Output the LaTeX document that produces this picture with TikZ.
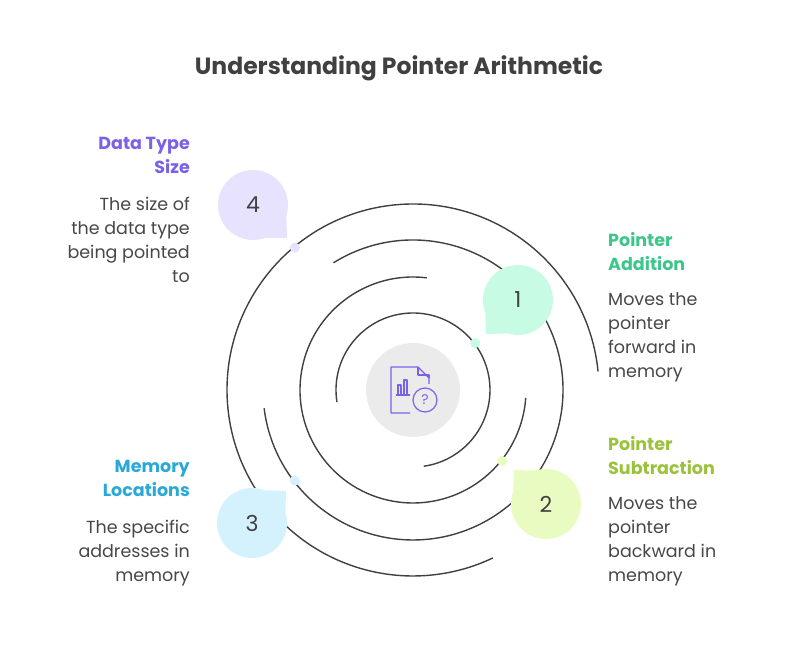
\documentclass[tikz,border=0pt]{standalone}
\usepackage{fontspec}
\setmainfont{Poppins}
\usetikzlibrary{calc}
\begin{document}
\begin{tikzpicture}[x=1pt,y=1pt,
  arcl/.style={draw=black!75,line width=1.4pt},
  ttl/.style={font=\fontsize{17.5}{24}\selectfont\bfseries},
  body/.style={font=\fontsize{17.5}{24}\selectfont,text=black!72},
  num/.style={font=\fontsize{22}{24}\selectfont,text=black!75}]
\definecolor{cA}{HTML}{C8FBE3}\definecolor{cB}{HTML}{E8FCC2}
\definecolor{cC}{HTML}{D4F2FD}\definecolor{cD}{HTML}{E7E2FD}
\definecolor{tA}{HTML}{3CC68A}\definecolor{tB}{HTML}{9BC23C}
\definecolor{tC}{HTML}{2AA8D8}\definecolor{tD}{HTML}{7B61E8}
\useasboundingbox (0,0) rectangle (798,660);
\coordinate (c) at (413,270);
\node[font=\fontsize{23.5}{24}\selectfont\bfseries,text=black!75] (title) at (399,592) {Understanding Pointer Arithmetic};
% arcs
\draw[arcl] ($(c)+(189:77)$) arc[start angle=189,end angle=-82,radius=77];
\draw[arcl] ($(c)+(83:113)$) arc[start angle=83,end angle=356,radius=113];
\draw[arcl] ($(c)+(122:150)$) arc[start angle=122,end angle=-173,radius=150];
\draw[arcl] ($(c)+(5.7:186)$) arc[start angle=5.7,end angle=295.4,radius=186];
% center
\node[circle,fill=black!8,minimum size=94pt,inner sep=0] (ctr) at (c) {};
\begin{scope}[draw=tD,line width=1.2pt,line join=round]
\draw (410,247) -- (391,247) -- (391,293) -- (418,293) -- (429,282) -- (429,276);
\draw (418,293) -- (418,285) -- (429,285) -- (429,282);
\draw (396,265) -- (410,265);
\draw (398,265) -- (398,275) -- (401,275) -- (401,265);
\draw (404,265) -- (404,280) -- (407,280) -- (407,265);
\draw (425,260) circle[radius=12];
\node[text=tD,font=\fontsize{14}{14}\selectfont] (q) at (425,260) {?};
\end{scope}
% bubbles
\foreach \n/\p/\t/\col/\txt in {b1/{518,360}/{486,326}/cA/1, b2/{546,156}/{514,190}/cB/2, b3/{252,137}/{286,169}/cC/3, b4/{253,455}/{287,422}/cD/4}{
  \fill[\col] (\t) -- ($(\p)!34pt!-32:(\t)$) -- ($(\p)!34pt!32:(\t)$) -- cycle;
  \node[circle,fill=\col,minimum size=70pt,inner sep=0,num] (\n) at (\p) {\txt};
}
% dots
\fill[cA] ($(c)+(37:78)$) circle[radius=5];
\fill[cB] ($(c)+(-38.5:114)$) circle[radius=5];
\fill[cC] ($(c)+(-142.5:149)$) circle[radius=5];
\fill[cD] ($(c)+(129.7:185)$) circle[radius=5];
% texts
\node[ttl,text=tD,align=right,anchor=north east,inner sep=0] (t4) at (190,523) {Data Type\\Size};
\node[body,align=right,anchor=north east,inner sep=0] (d4) at (190,463) {The size of\\the data type\\being pointed\\to};
\node[ttl,text=tA,align=left,anchor=north west,inner sep=0] (t1) at (608,428) {Pointer\\Addition};
\node[body,align=left,anchor=north west,inner sep=0] (d1) at (608,368) {Moves the\\pointer\\forward in\\memory};
\node[ttl,text=tB,align=left,anchor=north west,inner sep=0] (t2) at (608,224) {Pointer\\Subtraction};
\node[body,align=left,anchor=north west,inner sep=0] (d2) at (608,164) {Moves the\\pointer\\backward in\\memory};
\node[ttl,text=tC,align=right,anchor=north east,inner sep=0] (t3) at (190,200) {Memory\\Locations};
\node[body,align=right,anchor=north east,inner sep=0] (d3) at (190,140) {The specific\\addresses in\\memory};
\end{tikzpicture}
\end{document}
